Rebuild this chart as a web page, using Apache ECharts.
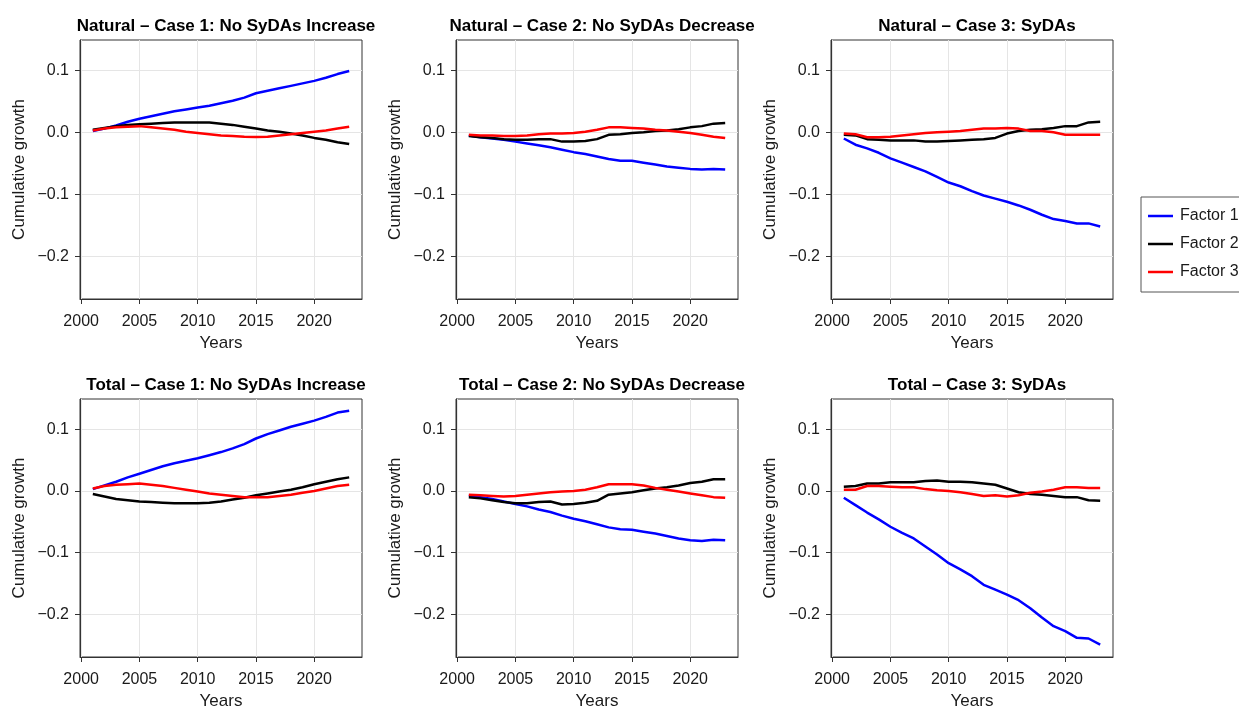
<!DOCTYPE html>
<html>
<head>
<meta charset="utf-8">
<script src="https://cdn.jsdelivr.net/npm/echarts@6/dist/echarts.min.js"></script>
<style>html,body{margin:0;padding:0;background:#fff;}#chart{width:1239px;height:711px;}</style>
</head>
<body>
<div id="chart"></div>
<script>
// ---------- data ----------
const years = [2001,2002,2003,2004,2005,2006,2007,2008,2009,2010,2011,2012,2013,2014,2015,2016,2017,2018,2019,2020,2021,2022,2023];
const xTicks = [2000, 2005, 2010, 2015, 2020];
const yTicks = [-0.2, -0.1, 0.0, 0.1];
const factorNames = ['Factor 1', 'Factor 2', 'Factor 3'];
const panelTitles = [
  'Natural – Case 1: No SyDAs Increase',
  'Natural – Case 2: No SyDAs Decrease',
  'Natural – Case 3: SyDAs',
  'Total – Case 1: No SyDAs Increase',
  'Total – Case 2: No SyDAs Decrease',
  'Total – Case 3: SyDAs'
];

// Natural – Case 1
const nat1F1 = [0.002,0.006,0.011,0.017,0.022,0.026,0.030,0.034,0.037,0.040,0.043,0.047,0.051,0.056,0.063,0.067,0.071,0.075,0.079,0.083,0.088,0.094,0.099];
const nat1F2 = [0.004,0.007,0.010,0.012,0.013,0.014,0.015,0.016,0.016,0.016,0.016,0.014,0.012,0.009,0.006,0.003,0.001,-0.002,-0.005,-0.009,-0.012,-0.016,-0.019];
const nat1F3 = [0.003,0.006,0.008,0.009,0.010,0.008,0.006,0.004,0.001,-0.001,-0.003,-0.005,-0.006,-0.007,-0.0075,-0.007,-0.005,-0.003,-0.001,0.001,0.003,0.006,0.009];
// Natural – Case 2
const nat2F1 = [-0.005,-0.008,-0.010,-0.012,-0.015,-0.018,-0.021,-0.024,-0.028,-0.032,-0.035,-0.039,-0.043,-0.046,-0.046,-0.049,-0.052,-0.055,-0.057,-0.059,-0.060,-0.059,-0.060];
const nat2F2 = [-0.006,-0.008,-0.009,-0.011,-0.012,-0.012,-0.011,-0.011,-0.015,-0.015,-0.014,-0.011,-0.004,-0.003,-0.001,0.000,0.002,0.003,0.005,0.008,0.010,0.014,0.015];
const nat2F3 = [-0.004,-0.005,-0.005,-0.006,-0.006,-0.005,-0.003,-0.002,-0.002,-0.001,0.001,0.004,0.008,0.008,0.007,0.006,0.004,0.003,0.001,-0.001,-0.004,-0.007,-0.009];
// Natural – Case 3
const nat3F1 = [-0.010,-0.020,-0.026,-0.033,-0.042,-0.049,-0.056,-0.063,-0.072,-0.081,-0.087,-0.095,-0.102,-0.107,-0.112,-0.118,-0.125,-0.133,-0.140,-0.143,-0.147,-0.147,-0.152];
const nat3F2 = [-0.004,-0.005,-0.011,-0.012,-0.013,-0.013,-0.013,-0.015,-0.015,-0.014,-0.013,-0.012,-0.011,-0.009,-0.002,0.002,0.004,0.005,0.007,0.010,0.010,0.016,0.017];
const nat3F3 = [-0.002,-0.003,-0.008,-0.008,-0.007,-0.005,-0.003,-0.001,0.000,0.001,0.002,0.004,0.006,0.006,0.007,0.006,0.002,0.002,0.000,-0.004,-0.004,-0.004,-0.004];
// Total – Case 1
const tot1F1 = [0.003,0.009,0.015,0.022,0.028,0.034,0.040,0.045,0.049,0.053,0.058,0.063,0.069,0.076,0.085,0.092,0.098,0.104,0.109,0.114,0.120,0.127,0.130];
const tot1F2 = [-0.005,-0.009,-0.013,-0.015,-0.017,-0.018,-0.019,-0.020,-0.020,-0.020,-0.019,-0.017,-0.014,-0.011,-0.007,-0.004,-0.001,0.002,0.006,0.011,0.015,0.019,0.022];
const tot1F3 = [0.004,0.008,0.010,0.011,0.012,0.010,0.008,0.005,0.002,-0.001,-0.004,-0.006,-0.008,-0.010,-0.010,-0.010,-0.008,-0.006,-0.003,0.000,0.004,0.008,0.010];
// Total – Case 2
const tot2F1 = [-0.007,-0.010,-0.013,-0.017,-0.021,-0.025,-0.030,-0.034,-0.040,-0.045,-0.049,-0.054,-0.059,-0.062,-0.063,-0.066,-0.069,-0.073,-0.077,-0.080,-0.081,-0.079,-0.080];
const tot2F2 = [-0.010,-0.012,-0.015,-0.018,-0.020,-0.020,-0.018,-0.017,-0.022,-0.021,-0.019,-0.016,-0.006,-0.004,-0.002,0.001,0.004,0.006,0.009,0.013,0.015,0.019,0.019];
const tot2F3 = [-0.006,-0.007,-0.008,-0.009,-0.008,-0.006,-0.004,-0.002,-0.001,0.000,0.002,0.006,0.011,0.011,0.011,0.009,0.005,0.002,-0.001,-0.004,-0.007,-0.010,-0.011];
// Total – Case 3
const tot3F1 = [-0.011,-0.023,-0.035,-0.046,-0.058,-0.068,-0.077,-0.090,-0.103,-0.117,-0.127,-0.138,-0.152,-0.160,-0.168,-0.177,-0.190,-0.205,-0.219,-0.227,-0.238,-0.239,-0.249];
const tot3F2 = [0.007,0.008,0.012,0.012,0.014,0.014,0.014,0.016,0.017,0.015,0.015,0.014,0.012,0.010,0.004,-0.002,-0.005,-0.006,-0.008,-0.010,-0.010,-0.015,-0.016];
const tot3F3 = [0.002,0.002,0.008,0.008,0.007,0.006,0.006,0.003,0.001,0.000,-0.002,-0.005,-0.008,-0.007,-0.009,-0.007,-0.003,-0.001,0.002,0.006,0.006,0.005,0.005];

const panels = [
  [nat1F1, nat1F2, nat1F3],
  [nat2F1, nat2F2, nat2F3],
  [nat3F1, nat3F2, nat3F3],
  [tot1F1, tot1F2, tot1F3],
  [tot2F1, tot2F2, tot2F3],
  [tot3F1, tot3F2, tot3F3]
];

// ---------- layout / style ----------
const colors = ['#0000ff', '#000000', '#ff0000'];
const colLeft = [80, 456, 831];
const rowTop = [40, 399];
const gW = 282, gH = 259;
const fontFam = '"Liberation Sans", Arial, Helvetica, sans-serif';
const txt = '#1a1a1a';
const frame = '#333333';

const grids = [], xAxes = [], yAxes = [], titles = [], series = [];
panels.forEach((p, i) => {
  const r = Math.floor(i / 3), c = i % 3;
  grids.push({left: colLeft[c], top: rowTop[r], width: gW, height: gH, show: true, borderColor: frame, borderWidth: 1, backgroundColor: 'transparent', containLabel: false});
  titles.push({text: panelTitles[i], left: colLeft[c] + gW / 2, top: rowTop[r] - 27, textAlign: 'center',
    textStyle: {fontFamily: fontFam, fontSize: 17, fontWeight: 'bold', color: '#000'}});
  xAxes.push({type: 'value', gridIndex: i, min: 1999.9, max: 2024.1,
    name: 'Years', nameLocation: 'middle', nameGap: 36,
    nameTextStyle: {fontFamily: fontFam, fontSize: 17, color: txt},
    axisLine: {show: true, onZero: false, lineStyle: {color: frame, width: 1}},
    axisTick: {show: true, inside: false, length: 5, lineStyle: {color: frame}, customValues: xTicks},
    axisLabel: {fontFamily: fontFam, fontSize: 16, color: txt, margin: 15, customValues: xTicks, formatter: v => String(v)},
    splitLine: {show: true, lineStyle: {color: '#e5e5e5', width: 1}}});
  yAxes.push({type: 'value', gridIndex: i, min: -0.269, max: 0.149,
    name: 'Cumulative growth', nameLocation: 'middle', nameGap: 52, nameRotate: 90,
    nameTextStyle: {fontFamily: fontFam, fontSize: 17, color: txt},
    axisLine: {show: true, onZero: false, lineStyle: {color: frame, width: 1}},
    axisTick: {show: true, inside: false, length: 5, lineStyle: {color: frame}, customValues: yTicks},
    axisLabel: {fontFamily: fontFam, fontSize: 16, color: txt, margin: 11, customValues: yTicks,
      formatter: v => (v < -1e-9 ? '\u2212' : '') + Math.abs(v).toFixed(1)},
    splitLine: {show: true, lineStyle: {color: '#e5e5e5', width: 1}}});
  p.forEach((arr, k) => {
    series.push({type: 'line', name: factorNames[k], xAxisIndex: i, yAxisIndex: i,
      data: years.map((y, j) => [y, arr[j]]), symbol: 'none', showSymbol: false,
      lineStyle: {color: colors[k], width: 2.5}, itemStyle: {color: colors[k]}, z: 3, silent: true});
  });
});

const chart = echarts.init(document.getElementById('chart'), null, {renderer: 'canvas'});
chart.setOption({
  animation: false,
  backgroundColor: '#fff',
  title: titles,
  grid: grids,
  xAxis: xAxes,
  yAxis: yAxes,
  legend: {data: factorNames, orient: 'vertical', left: 1141, top: 197, icon: 'rect',
    padding: [11, 10, 12, 7], itemWidth: 25, itemHeight: 2.5, itemGap: 12,
    borderColor: '#555', borderWidth: 1, backgroundColor: '#fff',
    textStyle: {fontFamily: fontFam, fontSize: 16, color: txt, padding: [0, 0, 0, 2]}},
  series: series
});
</script>
</body>
</html>
